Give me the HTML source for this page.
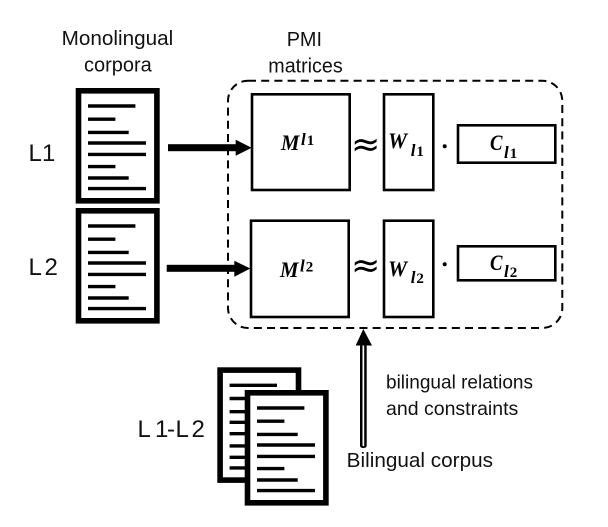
<!DOCTYPE html>
<html>
<head>
<meta charset="utf-8">
<style>
html,body{margin:0;padding:0;background:#fff;width:608px;height:527px;overflow:hidden}
svg{display:block}
.s{font-family:"Liberation Sans",sans-serif;fill:#111}
.m{font-family:"Liberation Serif",serif;font-weight:bold;font-style:italic;fill:#000}
</style>
</head>
<body>
<svg width="608" height="527" viewBox="0 0 608 527" xmlns="http://www.w3.org/2000/svg">
<defs>
<g id="doc">
<rect x="2.8" y="2.8" width="78.4" height="110" fill="#fff" stroke="#000" stroke-width="5.6"/>
<g stroke="#000" stroke-width="3.4" fill="none">
<line x1="12.3" y1="18" x2="59.7" y2="18"/>
<line x1="12.3" y1="31.2" x2="39.7" y2="31.2"/>
<line x1="12.3" y1="44.4" x2="53" y2="44.4"/>
<line x1="12.3" y1="55" x2="70.3" y2="55"/>
<line x1="12.3" y1="66.4" x2="70.3" y2="66.4"/>
<line x1="12.3" y1="78.6" x2="39.7" y2="78.6"/>
<line x1="12.3" y1="90" x2="53" y2="90"/>
<line x1="12.3" y1="100.6" x2="70.3" y2="100.6"/>
</g>
</g>
</defs>

<text class="s" x="61.7" y="45" font-size="20" textLength="111.5" lengthAdjust="spacingAndGlyphs">Monolingual</text>
<text class="s" x="84" y="71.7" font-size="20" textLength="67.7" lengthAdjust="spacingAndGlyphs">corpora</text>
<text class="s" x="286.7" y="46" font-size="20" textLength="35.3" lengthAdjust="spacingAndGlyphs">PMI</text>
<text class="s" x="268.3" y="72.3" font-size="20" textLength="74.4" lengthAdjust="spacingAndGlyphs">matrices</text>
<text class="s" x="28.5" y="161" font-size="24">L</text>
<text class="s" x="42" y="161" font-size="24">1</text>
<text class="s" x="28.5" y="275" font-size="24">L</text>
<text class="s" x="44.5" y="275" font-size="24">2</text>

<use href="#doc" x="75.7" y="88"/>
<use href="#doc" x="75.7" y="208"/>

<rect x="228" y="80.7" width="334.3" height="247.3" rx="20" ry="20" fill="none" stroke="#000" stroke-width="2" stroke-dasharray="8 5.2"/>

<rect x="168" y="144.2" width="68" height="7" fill="#000"/>
<polygon points="235.7,139.7 251.7,147.7 235.7,155.7" fill="#000"/>
<rect x="166.7" y="264.8" width="68" height="7" fill="#000"/>
<polygon points="234.3,260.7 250.3,268.5 234.3,276.7" fill="#000"/>

<g fill="#fff" stroke="#000" stroke-width="2.6">
<rect x="252" y="94.3" width="97.7" height="95.7"/>
<rect x="384" y="94.3" width="49.3" height="95.7"/>
<rect x="458" y="125.3" width="97.3" height="37.4"/>
<rect x="251" y="220.7" width="97.7" height="96.3"/>
<rect x="384" y="220.7" width="49.3" height="96.3"/>
<rect x="458" y="246.3" width="97.3" height="34"/>
</g>

<text class="m" x="281" y="150" font-size="22" textLength="18.5" lengthAdjust="spacingAndGlyphs">M</text>
<text class="m" x="301" y="145" font-size="17">l<tspan font-style="normal" font-size="15" dx="1">1</tspan></text>
<text class="m" x="388" y="148" font-size="22" textLength="19" lengthAdjust="spacingAndGlyphs">W</text>
<text class="m" x="410.7" y="156" font-size="17">l<tspan font-style="normal" font-size="15" dx="1">1</tspan></text>
<text class="m" x="490" y="150" font-size="22" textLength="12.5" lengthAdjust="spacingAndGlyphs">C</text>
<text class="m" x="504" y="158" font-size="17">l<tspan font-style="normal" font-size="15" dx="1">1</tspan></text>

<text class="m" x="280" y="277" font-size="22" textLength="18.5" lengthAdjust="spacingAndGlyphs">M</text>
<text class="m" x="300" y="271.7" font-size="17">l<tspan font-style="normal" font-size="15" dx="1">2</tspan></text>
<text class="m" x="388" y="276" font-size="22" textLength="19" lengthAdjust="spacingAndGlyphs">W</text>
<text class="m" x="410.7" y="283" font-size="17">l<tspan font-style="normal" font-size="15" dx="1">2</tspan></text>
<text class="m" x="490" y="270" font-size="22" textLength="12.5" lengthAdjust="spacingAndGlyphs">C</text>
<text class="m" x="504" y="277" font-size="17">l<tspan font-style="normal" font-size="15" dx="1">2</tspan></text>

<text x="365.7" y="156.2" font-family="DejaVu Sans, sans-serif" font-size="35" text-anchor="middle" fill="#000">≈</text>
<text x="365.7" y="277.2" font-family="DejaVu Sans, sans-serif" font-size="35" text-anchor="middle" fill="#000">≈</text>
<circle cx="444.7" cy="146.3" r="2" fill="#000"/>
<circle cx="444.7" cy="264.3" r="2" fill="#000"/>

<rect x="360" y="344" width="6.7" height="104" rx="2.5" fill="#000"/>
<rect x="362.5" y="344" width="1.7" height="102" fill="#fff"/>
<polygon points="363.3,329 372,345.5 355.7,345.5" fill="#000"/>

<text class="s" x="386" y="388.3" font-size="19.5" textLength="147" lengthAdjust="spacingAndGlyphs">bilingual relations</text>
<text class="s" x="386" y="415" font-size="19.5" textLength="132.3" lengthAdjust="spacingAndGlyphs">and constraints</text>
<text class="s" x="346.7" y="467" font-size="20" textLength="146.3" lengthAdjust="spacingAndGlyphs">Bilingual corpus</text>

<text class="s" x="137.5" y="437" font-size="24">L</text>
<text class="s" x="155" y="437" font-size="24">1</text>
<text class="s" x="167" y="437" font-size="24">-</text>
<text class="s" x="175.5" y="437" font-size="24">L</text>
<text class="s" x="191.5" y="437" font-size="24">2</text>

<use href="#doc" x="217.3" y="367.3"/>
<use href="#doc" x="244.7" y="390"/>
</svg>
</body>
</html>
